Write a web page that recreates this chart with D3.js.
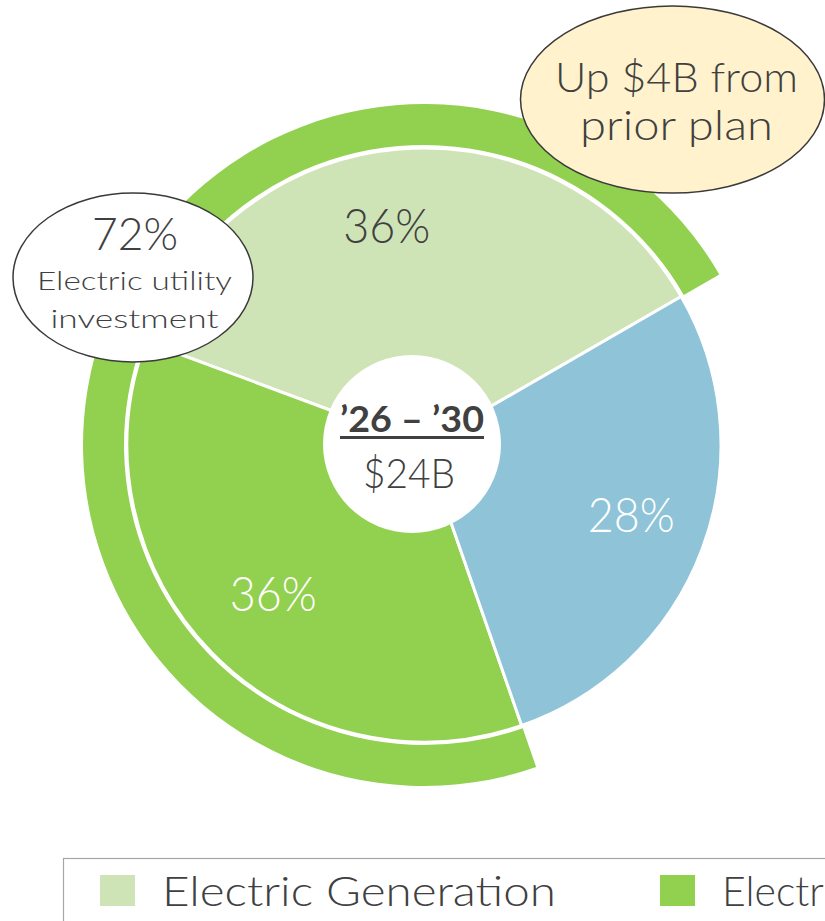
<!DOCTYPE html>
<html><head><meta charset="utf-8">
<script src="https://cdn.jsdelivr.net/npm/d3@7"></script>
<style>html,body{margin:0;padding:0;background:#fff;overflow:hidden}svg{display:block}</style>
</head><body>
<svg id="chart" width="825" height="921"></svg>
<script>
// ---- data (legend order) ----
const categories = ["Electric Generation", "Electric Distribution", "Gas Utility"];
const shares = [36, 36, 28];              // percent of capital plan
const isElectric = [true, true, false];   // covered by outer "electric utility" ring
const pieOrder = [0, 2, 1];               // clockwise order of slices in the pie
const periodLabel = "\u201926 \u2013 \u201930";
const totalLabel = "$24B";
const calloutLines = ["Up $4B from", "prior plan"];
const electricLines = ["Electric utility", "investment"];

// ---- styles ----
const colors = ["#CFE4B6", "#92D050", "#8EC3D8"];
const labelColors = ["#404040", "#ffffff", "#ffffff"];
const textColor = "#404040";
const FONT = "Lato, 'Open Sans', sans-serif";
const LIGHT = 300;

const svg = d3.select("#chart");
const cx = 424, cy = 445, R = 297, ringIn = 300, ringOut = 341;
const startDeg = -69.6;

const data = categories.map((c, i) => ({ name: c, value: shares[i], i }));
const pie = d3.pie()
  .value(d => d.value)
  .sort((a, b) => pieOrder.indexOf(a.i) - pieOrder.indexOf(b.i))
  .startAngle(startDeg * Math.PI / 180)
  .endAngle(startDeg * Math.PI / 180 + 2 * Math.PI);
const arcs = pie(data);

const g = svg.append("g").attr("transform", `translate(${cx},${cy})`);

// outer ring over electric slices
const nonElec = arcs.filter(a => !isElectric[a.data.i]);
const ringStart = nonElec.length ? nonElec[0].endAngle : arcs[0].startAngle;
const ringEnd = nonElec.length ? nonElec[0].startAngle + 2 * Math.PI : arcs[0].startAngle + 2 * Math.PI;
g.append("path")
  .attr("d", d3.arc().innerRadius(ringIn).outerRadius(ringOut)({ startAngle: ringStart, endAngle: ringEnd }))
  .attr("fill", colors[1]);

// pie slices
const arcGen = d3.arc().innerRadius(0).outerRadius(R);
g.selectAll("path.slice").data(arcs).join("path")
  .attr("class", "slice")
  .attr("d", arcGen)
  .attr("fill", d => colors[d.data.i])
  .attr("stroke", "#fff").attr("stroke-width", 3).attr("stroke-linejoin", "round");

function fit(sel, w) { if (w) sel.attr("textLength", w).attr("lengthAdjust", "spacingAndGlyphs"); return sel; }

// slice labels
const labelArc = d3.arc().innerRadius(218).outerRadius(218);
const labelNudge = { 0: [-19, -2], 2: [3, -6.5], 1: [5, -4] };
arcs.forEach(a => {
  const [x, y] = labelArc.centroid(a);
  const n = labelNudge[a.data.i] || [0, 0];
  fit(g.append("text")
    .attr("x", x + n[0]).attr("y", y + n[1] + 17.5)
    .attr("text-anchor", "middle")
    .attr("font-family", FONT).attr("font-weight", LIGHT).attr("font-size", 48)
    .attr("fill", labelColors[a.data.i])
    .text(d3.format("d")(a.data.value) + "%"), 87);
});

// center hole
svg.append("circle").attr("cx", 412).attr("cy", 444).attr("r", 89).attr("fill", "#fff");
fit(svg.append("text").attr("x", 412).attr("y", 432).attr("text-anchor", "middle")
  .attr("font-family", FONT).attr("font-weight", 700).attr("font-size", 37)
  .attr("fill", textColor).text(periodLabel), 144);
svg.append("rect").attr("x", 340).attr("y", 436).attr("width", 144).attr("height", 3).attr("fill", textColor);
fit(svg.append("text").attr("x", 409).attr("y", 488).attr("text-anchor", "middle")
  .attr("font-family", FONT).attr("font-weight", LIGHT).attr("font-size", 41)
  .attr("fill", textColor).text(totalLabel), 92);

// electric utility callout
const elecTotal = d3.sum(data.filter(d => isElectric[d.i]), d => d.value);
svg.append("ellipse").attr("cx", 133).attr("cy", 277.5).attr("rx", 120).attr("ry", 84.5)
  .attr("fill", "#fff").attr("stroke", "#3a3a3a").attr("stroke-width", 1.5);
fit(svg.append("text").attr("x", 135).attr("y", 250).attr("text-anchor", "middle")
  .attr("font-family", FONT).attr("font-weight", LIGHT).attr("font-size", 46).attr("fill", textColor)
  .text(elecTotal + "%"), 86);
const elecW = [195, 168], elecY = [290, 328];
electricLines.forEach((t, k) => {
  fit(svg.append("text").attr("x", 134.5).attr("y", elecY[k]).attr("text-anchor", "middle")
    .attr("font-family", FONT).attr("font-weight", LIGHT).attr("font-size", 26).attr("fill", textColor).text(t), elecW[k]);
});

// prior plan callout
svg.append("ellipse").attr("cx", 672.5).attr("cy", 99.5).attr("rx", 152).attr("ry", 93.5)
  .attr("fill", "#FFF2CC").attr("stroke", "#3a3a3a").attr("stroke-width", 1.5);
const cW = [243, 193], cY = [92, 140];
calloutLines.forEach((t, k) => {
  fit(svg.append("text").attr("x", 676.5).attr("y", cY[k]).attr("text-anchor", "middle")
    .attr("font-family", FONT).attr("font-weight", LIGHT).attr("font-size", 41).attr("fill", textColor).text(t), cW[k]);
});

// legend
svg.append("rect").attr("x", 63.5).attr("y", 858.5).attr("width", 900).attr("height", 200)
  .attr("fill", "none").attr("stroke", "#A6A6A6").attr("stroke-width", 1.2);
let lx = 100;
categories.forEach((c, i) => {
  svg.append("rect").attr("x", lx).attr("y", 875).attr("width", 35).attr("height", 31).attr("fill", colors[i]);
  const t = svg.append("text").attr("x", lx + 62).attr("y", 906)
    .attr("font-family", FONT).attr("font-weight", LIGHT).attr("font-size", 41).attr("fill", textColor).text(c);
  if (i === 0) fit(t, 394);
  const w = i === 0 ? 394 : t.node().getComputedTextLength();
  lx = lx + 62 + w + 104;
});
</script>
</body></html>
